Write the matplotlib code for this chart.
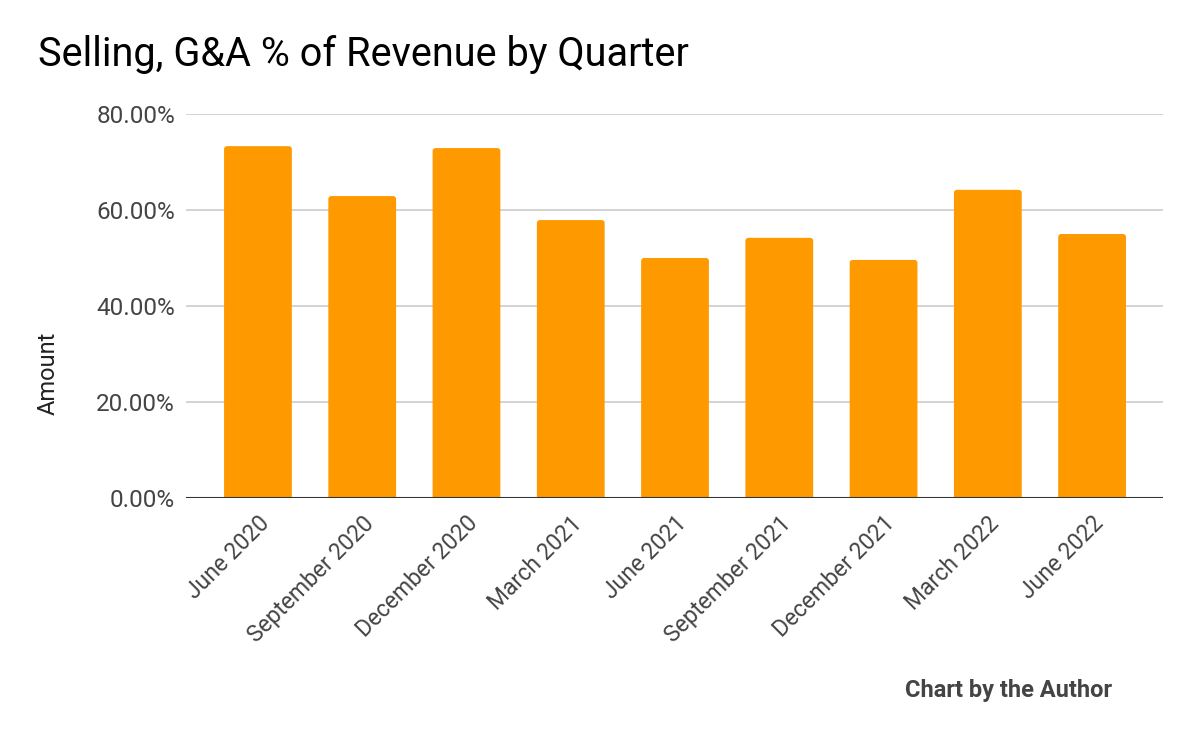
import matplotlib
matplotlib.use("Agg")
import matplotlib.pyplot as plt
from matplotlib.ticker import FuncFormatter
from matplotlib.patches import FancyBboxPatch

quarters = ["June 2020", "September 2020", "December 2020", "March 2021", "June 2021",
            "September 2021", "December 2021", "March 2022", "June 2022"]
values = [73.3, 62.9, 72.9, 57.9, 50.0, 54.2, 49.6, 64.2, 55.0]
yticks = [0, 20, 40, 60, 80]

plt.rcParams['font.family'] = ['Roboto', 'DejaVu Sans']

W, H = 1200, 742
fig = plt.figure(figsize=(W / 100, H / 100), dpi=100)
left, right, top, bottom = 186, 1163, 114, 498
ax = fig.add_axes([left / W, 1 - bottom / H, (right - left) / W, (bottom - top) / H])

x = list(range(len(quarters)))
bars = ax.bar(x, values, width=0.65, color="#FF9900", zorder=3)

ax.set_ylim(0, 80)
ax.set_xlim(-0.69, 8.68)

# replace bars with slightly rounded-top versions
px_per_x = (right - left) / (8.68 + 0.69)
px_per_y = (bottom - top) / 80
r = 3.0 / px_per_x
aspect = (3.0 / px_per_y) / r
for b in bars:
    b.set_visible(False)
    p = FancyBboxPatch((b.get_x(), -2), b.get_width(), b.get_height() + 2,
                       boxstyle=f"round,pad=0,rounding_size={r}",
                       mutation_aspect=aspect, facecolor="#FF9900",
                       edgecolor="none", zorder=3, clip_on=True)
    ax.add_patch(p)

ax.set_yticks(yticks)
ax.yaxis.set_major_formatter(FuncFormatter(lambda v, p: f"{v:.2f}%"))
ax.grid(axis="y", color="#cccccc", linewidth=1.2, zorder=0)
ax.axhline(0, color="#333333", linewidth=1.5, zorder=4)
for s in ax.spines.values():
    s.set_visible(False)
ax.tick_params(axis="both", length=0, labelcolor="#444444")
ax.tick_params(axis="y", pad=8, labelsize=17.5)
ax.set_xticks(x)
ax.set_xticklabels(quarters, rotation=45, ha="right", rotation_mode="anchor", va="top")
ax.tick_params(axis="x", pad=10, labelsize=16.5)

fig.text(38 / W, 1 - 55 / H, "Selling, G&A % of Revenue by Quarter", fontsize=28.5,
         color="#000000", ha="left", va="center")
fig.text(48 / W, 1 - 373 / H, "Amount", fontsize=17, color="#222222", rotation=90,
         ha="center", va="center")
fig.text(1112 / W, 1 - 691 / H, "Chart by the Author", fontsize=17, fontweight="bold",
         color="#444444", ha="right", va="center")

fig.savefig("out.png", dpi=100, facecolor="white")
